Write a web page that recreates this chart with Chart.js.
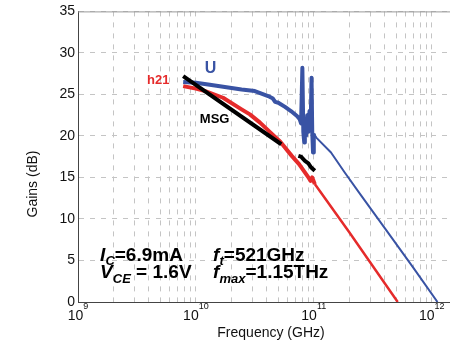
<!DOCTYPE html>
<html>
<head>
<meta charset="utf-8">
<script src="https://cdn.jsdelivr.net/npm/chart.js@4.4.0/dist/chart.umd.min.js"></script>
<style>
  html, body { margin: 0; padding: 0; background: #fff; }
  #wrap { width: 450px; height: 344px; }
</style>
</head>
<body>
<div id="wrap"><canvas id="gainChart" width="450" height="344"></canvas></div>
<script>
// values (Hz, dB)
const uFreq = [7.8e9, 1.0e10, 1.27e10, 1.76e10, 2.44e10, 3.16e10, 4.1e10, 4.5e10, 4.7e10, 5.0e10, 5.7e10, 6.4e10, 7.2e10,
  7.6e10, 7.8e10, 8.0e10, 8.15e10, 8.3e10, 8.4e10, 8.6e10, 8.8e10, 9.0e10, 9.2e10, 9.4e10, 9.57e10, 9.7e10, 9.85e10, 1.0e11,
  1.05e11, 1.4e11, 1.83e11, 2.5e11, 4.0e11, 7.0e11, 1.12e12];
const uGain = [26.5, 26.4, 26.2, 25.9, 25.6, 25.4, 24.8, 24.5, 24.1, 24.0, 23.5, 23.0, 22.4,
  22.0, 21.5, 28.2, 20.5, 19.2, 22.0, 20.0, 22.5, 20.5, 23.0, 21.0, 27.0, 20.5, 18.0, 20.3,
  19.8, 18.0, 15.6, 12.9, 8.9, 4.1, 0];

const h21Freq = [7.8e9, 1.0e10, 1.2e10, 1.7e10, 2.44e10, 2.87e10, 3.5e10, 4.3e10, 5.2e10, 6.5e10, 7.5e10, 8.4e10,
  9.0e10, 9.4e10, 9.7e10, 1.02e11, 2.0e11, 5.15e11];
const h21Gain = [26.0, 25.7, 25.4, 24.6, 23.2, 22.6, 21.6, 20.4, 19.3, 17.6, 16.6, 15.6,
  15.0, 14.6, 15.0, 14.2, 8.4, 0];

const msgFreq = [7.8e9, 5.3e10, 6.3e10, 7.4e10, 7.8e10, 8.4e10, 9.0e10, 9.5e10, 1.02e11];
const msgGain = [27.2, 19.0, null, 17.6, 17.5, 17.0, 16.7, 16.2, 15.8];

const xDecades = [1e9, 1e10, 1e11, 1e12];
const xDecadeExp = ['9', '10', '11', '12'];
const yTicks = [0, 5, 10, 15, 20, 25, 30, 35];

const FONT = "'Liberation Sans', Arial, Helvetica, sans-serif";
const toPts = (fs, gs) => fs.map((f, i) => ({ x: f, y: gs[i] }));

const gridTicks = [];
xDecades.forEach(d => {
  for (let k = 1; k <= 9; k++) {
    if (d * k <= 1.43e12) gridTicks.push(d * k);
  }
});

function drawRuns(ctx, x, y, parts, color) {
  ctx.fillStyle = color;
  parts.forEach(p => {
    ctx.font = p.f;
    ctx.fillText(p.t, x, y + (p.dy || 0));
    x += ctx.measureText(p.t).width;
  });
}

const textPlugin = {
  id: 'textPlugin',
  afterDraw(chart) {
    const { ctx, chartArea, scales: { x, y } } = chart;
    ctx.save();
    // top frame line
    ctx.strokeStyle = '#999';
    ctx.lineWidth = 1;
    ctx.beginPath();
    ctx.moveTo(chartArea.left, chartArea.top + 0.5);
    ctx.lineTo(chartArea.right, chartArea.top + 0.5);
    ctx.stroke();

    // decade tick labels with superscript
    ctx.textBaseline = 'alphabetic';
    ctx.textAlign = 'left';
    xDecades.forEach((d, i) => {
      const px = x.getPixelForValue(d);
      ctx.font = '14px ' + FONT;
      const w1 = ctx.measureText('10').width;
      ctx.font = '9px ' + FONT;
      const w2 = ctx.measureText(xDecadeExp[i]).width;
      const sx = px - (w1 + w2) / 2;
      drawRuns(ctx, sx, chartArea.bottom + 18, [
        { t: '10', f: '14px ' + FONT },
        { t: xDecadeExp[i], f: '9px ' + FONT, dy: -11 }
      ], '#111');
    });

    // axis titles
    ctx.fillStyle = '#111';
    ctx.font = '14px ' + FONT;
    ctx.textAlign = 'center';
    ctx.fillText('Frequency (GHz)', 271, 337);
    ctx.save();
    ctx.translate(33, 184);
    ctx.rotate(-Math.PI / 2);
    ctx.textBaseline = 'middle';
    ctx.fillText('Gains (dB)', 0, 0);
    ctx.restore();

    // curve labels
    ctx.textAlign = 'left';
    ctx.textBaseline = 'alphabetic';
    ctx.font = 'bold 13px ' + FONT;
    ctx.fillStyle = '#e52b2b';
    ctx.fillText('h21', x.getPixelForValue(3.85e9), y.getPixelForValue(26.3));
    ctx.font = 'bold 16px ' + FONT;
    ctx.fillStyle = '#3953a4';
    ctx.fillText('U', x.getPixelForValue(1.19e10), y.getPixelForValue(27.6));
    ctx.font = 'bold 13px ' + FONT;
    ctx.fillStyle = '#000';
    ctx.fillText('MSG', x.getPixelForValue(1.08e10), y.getPixelForValue(21.5));

    // bias / figure-of-merit annotation
    const big = 'bold 19px ' + FONT, bigI = 'italic bold 19px ' + FONT, sub = 'italic bold 13px ' + FONT;
    const lx = x.getPixelForValue(1.54e9), rx = x.getPixelForValue(1.40e10);
    const b1 = y.getPixelForValue(4.9), b2 = y.getPixelForValue(2.9);
    drawRuns(ctx, lx, b1, [{ t: 'I', f: bigI }, { t: 'C', f: sub, dy: 4 }, { t: '=6.9mA', f: big }], '#000');
    drawRuns(ctx, lx, b2, [{ t: 'V', f: bigI }, { t: 'CE', f: sub, dy: 5 }, { t: ' = 1.6V', f: big }], '#000');
    drawRuns(ctx, rx, b1, [{ t: 'f', f: bigI }, { t: 't', f: sub, dy: 4 }, { t: '=521GHz', f: big }], '#000');
    drawRuns(ctx, rx, b2, [{ t: 'f', f: bigI }, { t: 'max', f: sub, dy: 5 }, { t: '=1.15THz', f: big }], '#000');
    ctx.restore();
  }
};

const thick = (w1, w2, cut) => c => (c.p0.parsed.x < cut ? w1 : w2);

new Chart(document.getElementById('gainChart'), {
  type: 'line',
  data: {
    datasets: [
      {
        label: 'MSG',
        data: toPts(msgFreq, msgGain),
        borderColor: '#000',
        borderWidth: 4,
        pointRadius: 0,
        spanGaps: false
      },
      {
        label: 'U',
        data: toPts(uFreq, uGain),
        borderColor: '#3953a4',
        borderWidth: 4,
        borderJoinStyle: 'round',
        pointRadius: 0,
        segment: { borderWidth: thick(4, 2, 1.0e11) }
      },
      {
        label: 'h21',
        data: toPts(h21Freq, h21Gain),
        borderColor: '#e52b2b',
        borderWidth: 4,
        borderJoinStyle: 'round',
        pointRadius: 0,
        segment: { borderWidth: thick(4, 2.5, 1.02e11) }
      }
    ]
  },
  options: {
    responsive: false,
    animation: false,
    layout: { padding: { top: 10, right: 0, left: 0, bottom: 0 } },
    plugins: { legend: { display: false }, tooltip: { enabled: false } },
    scales: {
      x: {
        type: 'logarithmic',
        min: 1e9,
        max: 1.43e12,
        afterBuildTicks: s => { s.ticks = gridTicks.map(v => ({ value: v })); },
        afterFit: s => { s.height = 42; },
        ticks: { display: false },
        grid: { color: '#c4c4c4', drawTicks: false },
        border: { display: true, color: '#444', width: 1, dash: [5, 6] }
      },
      y: {
        min: 0,
        max: 35,
        afterBuildTicks: s => { s.ticks = yTicks.map(v => ({ value: v })); },
        afterFit: s => { s.width = 78; },
        ticks: { color: '#111', padding: 3, font: { size: 14, family: FONT } },
        grid: { color: '#c4c4c4', drawTicks: false },
        border: { display: true, color: '#444', width: 1, dash: [5, 6] }
      }
    }
  },
  plugins: [textPlugin]
});
</script>
</body>
</html>
